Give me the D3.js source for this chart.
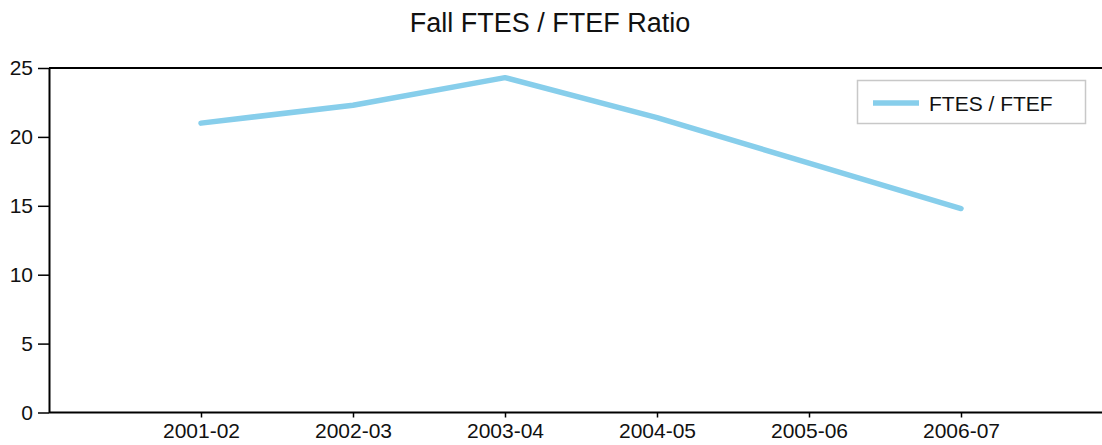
<!DOCTYPE html>
<html lang="en">
<head>
    <meta charset="UTF-8">
    <title>Fall FTES / FTEF Ratio</title>
    <script src="https://d3js.org/d3.v7.min.js"></script>
    <style>
        body { margin: 0; background: #fff; }
        svg { display: block; font-family: "Liberation Sans", Arial, sans-serif; }
    </style>
</head>
<body>
<svg></svg>
</body>
<script>
    // data
    const years = ["2001-02", "2002-03", "2003-04", "2004-05", "2005-06", "2006-07"];
    const ratio = [21.0, 22.3, 24.3, 21.4, 18.1, 14.8];
    const yTicks = [0, 5, 10, 15, 20, 25];
    const seriesName = "FTES / FTEF";
    const chartTitle = "Fall FTES / FTEF Ratio";

    const width = 1102;
    const height = 445;
    const plotLeft = 49, plotTop = 68, plotBottom = 412.5, plotRight = 1113;

    const svg = d3.select("svg")
        .attr("width", width)
        .attr("height", height);

    const x = d3.scalePoint()
        .domain(years)
        .range([plotLeft, plotRight])
        .padding(1);

    const y = d3.scaleLinear()
        .domain([0, 25])
        .range([plotBottom, plotTop]);

    // title
    svg.append("text")
        .attr("x", 550)
        .attr("y", 32)
        .attr("text-anchor", "middle")
        .style("font-size", "27px")
        .style("fill", "#111")
        .text(chartTitle);

    // top frame line
    svg.append("line")
        .attr("x1", plotLeft).attr("x2", width)
        .attr("y1", y(25)).attr("y2", y(25))
        .attr("stroke", "#000")
        .attr("stroke-width", 2);

    const yAxis = svg.append("g")
        .attr("transform", `translate(${plotLeft},0)`)
        .call(d3.axisLeft(y).tickValues(yTicks).tickSize(11).tickSizeOuter(0).tickPadding(5));

    const xAxis = svg.append("g")
        .attr("transform", `translate(0,${plotBottom})`)
        .call(d3.axisBottom(x).tickSize(5).tickSizeOuter(0).tickPadding(6));

    [yAxis, xAxis].forEach(g => {
        g.select(".domain").attr("stroke", "#000").attr("stroke-width", 2);
        g.selectAll(".tick line").attr("stroke", "#000").attr("stroke-width", 1.5);
        g.selectAll(".tick text")
            .style("font-size", "21px")
            .style("font-family", "'Liberation Sans', Arial, sans-serif")
            .attr("fill", "#111");
    });
    xAxis.select(".domain").attr("d", `M${plotLeft},0H${width}`);

    // series line
    const line = d3.line()
        .x((d, i) => x(years[i]))
        .y(d => y(d));

    svg.append("path")
        .datum(ratio)
        .attr("d", line)
        .attr("fill", "none")
        .attr("stroke", "#87ceeb")
        .attr("stroke-width", 5.5)
        .attr("stroke-linecap", "round")
        .attr("stroke-linejoin", "round");

    // legend
    const legend = svg.append("g");
    legend.append("rect")
        .attr("x", 857.5).attr("y", 80.5)
        .attr("width", 228).attr("height", 43)
        .attr("fill", "#fff")
        .attr("stroke", "#c8c8c8")
        .attr("stroke-width", 1.5);
    legend.append("line")
        .attr("x1", 873).attr("x2", 919)
        .attr("y1", 103).attr("y2", 103)
        .attr("stroke", "#87ceeb")
        .attr("stroke-width", 5.5);
    legend.append("text")
        .attr("x", 929).attr("y", 110.5)
        .style("font-size", "21px")
        .style("fill", "#111")
        .text(seriesName);
</script>
</html>
